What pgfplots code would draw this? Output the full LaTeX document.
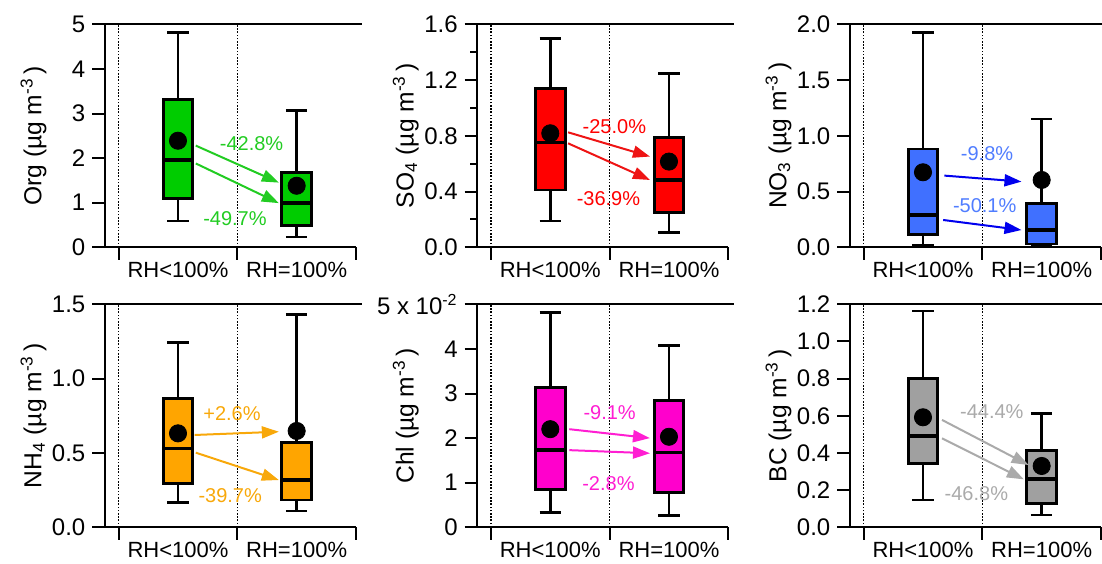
\documentclass[border=0pt]{standalone}
\usepackage{fontspec}
\setmainfont{Liberation Sans}
\usepackage{pgfplots}
\pgfplotsset{compat=1.18}
\usetikzlibrary{arrows.meta}

\definecolor{orgb}{RGB}{0,204,0}
\definecolor{orga}{RGB}{34,204,34}
\definecolor{so4b}{RGB}{255,0,0}
\definecolor{so4a}{RGB}{238,20,20}
\definecolor{no3b}{RGB}{64,112,255}
\definecolor{no3a}{RGB}{0,0,238}
\definecolor{no3t}{RGB}{80,125,255}
\definecolor{nh4b}{RGB}{255,165,0}
\definecolor{nh4a}{RGB}{248,168,10}
\definecolor{chlb}{RGB}{255,0,204}
\definecolor{chla}{RGB}{255,30,210}
\definecolor{bcb}{RGB}{160,160,160}
\definecolor{bca}{RGB}{170,170,170}

\newcommand{\tk}{\fontsize{12}{14}\selectfont}
\newcommand{\xk}{\fontsize{11}{13}\selectfont}
\newcommand{\lb}{\fontsize{12.3}{14}\selectfont}
\newcommand{\an}{\fontsize{10}{12}\selectfont}

\pgfplotsset{
  panel/.style={
    scale only axis, width=125.5pt, height=111.5pt,
    xmin=0.385, xmax=2.5, ymin=0,
    axis x line*=bottom, axis y line*=left,
    axis line style={line width=1pt, -},
    tick align=outside,
    major tick length=6.3pt, minor tick length=3.5pt,
    every tick/.style={line width=1pt, black},
    xtick={0.5,1.5,2.5}, xticklabels={RH<100\%,RH=100\%},
    x tick label as interval,
    clip=false,
    yticklabel style={font=\tk},
    xticklabel style={font=\xk, yshift=2.5pt},
    ylabel style={font=\lb, at={(axis description cs:-0.285,0.5)}, anchor=center},
    anchor=south west,
  },
  wk/.style={black, line width=1.45pt, line join=miter},
  md/.style={black, line width=1.8pt},
  mn/.style={only marks, mark=*, mark size=4.3pt, black, mark options={line width=0.4pt}},
  ar/.style={#1, line width=1pt, -{Triangle[length=8.5pt,width=6pt]}},
}
\newcommand{\seps}[1]{%
  \draw[line width=0.8pt, dash pattern=on 0.8pt off 0.8pt] (axis cs:0.5,0) -- (axis cs:0.5,#1);
  \draw[line width=0.8pt, dash pattern=on 0.8pt off 0.8pt] (axis cs:1.5,0) -- (axis cs:1.5,#1);
  \draw[line width=1pt] (rel axis cs:0,1) -- ([xshift=3pt]rel axis cs:1,1);
}
% box at position 1: fill, lower whisker, Q1, median, Q3, upper whisker
\newcommand{\boxA}[6]{%
  \addplot[wk] coordinates {(1,#2) (1,#6)};
  \addplot[wk] coordinates {(0.91,#2) (1.09,#2)};
  \addplot[wk] coordinates {(0.91,#6) (1.09,#6)};
  \addplot[wk, fill=#1] coordinates {(0.875,#3) (1.125,#3) (1.125,#5) (0.875,#5)} --cycle;
  \addplot[md] coordinates {(0.875,#4) (1.125,#4)};
}
% box at position 2
\newcommand{\boxB}[6]{%
  \addplot[wk] coordinates {(2,#2) (2,#6)};
  \addplot[wk] coordinates {(1.91,#2) (2.09,#2)};
  \addplot[wk] coordinates {(1.91,#6) (2.09,#6)};
  \addplot[wk, fill=#1] coordinates {(1.875,#3) (2.125,#3) (2.125,#5) (1.875,#5)} --cycle;
  \addplot[md] coordinates {(1.875,#4) (2.125,#4)};
}

\begin{document}
\begin{tikzpicture}
\useasboundingbox (0,0) rectangle (551pt,281.5pt);

% ---------- Org ----------
\begin{axis}[panel, at={(52.5pt,157.85pt)}, ymax=5,
  ytick={0,1,2,3,4,5}, yticklabels={0,1,2,3,4,5},
  ylabel={Org (µg m\textsuperscript{-3}\,)}]
\seps{5}
\boxA{orgb}{0.59}{1.09}{1.96}{3.32}{4.81}
\boxB{orgb}{0.23}{0.49}{0.99}{1.67}{3.06}
\addplot[mn] coordinates {(1,2.39) (2,1.38)};
\addplot[ar=orga] coordinates {(1.15,2.28) (1.85,1.45)};
\addplot[ar=orga] coordinates {(1.15,1.88) (1.85,0.99)};
\node[font=\an, text=orga] at (axis cs:1.62,2.33) {-42.8\%};
\node[font=\an, text=orga] at (axis cs:1.48,0.65) {-49.7\%};
\end{axis}

% ---------- SO4 ----------
\begin{axis}[panel, at={(238.65pt,157.85pt)}, ymax=1.6,
  ytick={0,0.4,0.8,1.2,1.6}, yticklabels={0.0,0.4,0.8,1.2,1.6},
  minor ytick={0.2,0.6,1.0,1.4},
  ylabel={SO\textsubscript{4} (µg m\textsuperscript{-3}\,)}]
\seps{1.6}
\boxA{so4b}{0.189}{0.411}{0.753}{1.141}{1.50}
\boxB{so4b}{0.105}{0.251}{0.483}{0.787}{1.248}
\addplot[mn] coordinates {(1,0.818) (2,0.615)};
\addplot[ar=so4a] coordinates {(1.15,0.825) (1.84,0.651)};
\addplot[ar=so4a] coordinates {(1.15,0.746) (1.84,0.483)};
\node[font=\an, text=so4b] at (axis cs:1.54,0.866) {-25.0\%};
\node[font=\an, text=so4b] at (axis cs:1.49,0.352) {-36.9\%};
\end{axis}

% ---------- NO3 ----------
\begin{axis}[panel, at={(425pt,157.85pt)}, ymax=2,
  ytick={0,0.5,1,1.5,2}, yticklabels={0.0,0.5,1.0,1.5,2.0},
  ylabel={NO\textsubscript{3} (µg m\textsuperscript{-3}\,)}]
\seps{2}
\boxA{no3b}{0.015}{0.111}{0.29}{0.882}{1.928}
\boxB{no3b}{0.005}{0.03}{0.155}{0.395}{1.151}
\addplot[mn] coordinates {(1,0.673) (2,0.604)};
\addplot[ar=no3a] coordinates {(1.18,0.643) (1.83,0.589)};
\addplot[ar=no3a] coordinates {(1.17,0.245) (1.83,0.155)};
\node[font=\an, text=no3t] at (axis cs:1.54,0.843) {-9.8\%};
\node[font=\an, text=no3t] at (axis cs:1.52,0.371) {-50.1\%};
\end{axis}

% ---------- NH4 ----------
\begin{axis}[panel, at={(52.5pt,17.85pt)}, ymax=1.5,
  ytick={0,0.5,1,1.5}, yticklabels={0.0,0.5,1.0,1.5},
  ylabel={NH\textsubscript{4} (µg m\textsuperscript{-3}\,)}]
\seps{1.5}
\boxA{nh4b}{0.168}{0.296}{0.531}{0.868}{1.242}
\boxB{nh4b}{0.110}{0.184}{0.318}{0.570}{1.433}
\addplot[mn] coordinates {(1,0.632) (2,0.648)};
\addplot[ar=nh4a] coordinates {(1.14,0.621) (1.85,0.643)};
\addplot[ar=nh4a] coordinates {(1.15,0.502) (1.85,0.318)};
\node[font=\an, text=nh4a] at (axis cs:1.455,0.767) {+2.6\%};
\node[font=\an, text=nh4a] at (axis cs:1.44,0.211) {-39.7\%};
\end{axis}

% ---------- Chl ----------
\begin{axis}[panel, at={(238.65pt,17.85pt)}, ymax=5,
  ytick={0,1,2,3,4,5}, yticklabels={0,1,2,3,4,{5 x 10\textsuperscript{-2}}},
  ylabel={Chl (µg m\textsuperscript{-3}\,)}]
\seps{5}
\boxA{chlb}{0.34}{0.84}{1.73}{3.13}{4.82}
\boxB{chlb}{0.26}{0.78}{1.68}{2.84}{4.07}
\addplot[mn] coordinates {(1,2.20) (2,2.03)};
\addplot[ar=chla] coordinates {(1.16,2.20) (1.84,2.0)};
\addplot[ar=chla] coordinates {(1.16,1.73) (1.84,1.66)};
\node[font=\an, text=chla] at (axis cs:1.5,2.58) {-9.1\%};
\node[font=\an, text=chla] at (axis cs:1.49,0.99) {-2.8\%};
\end{axis}

% ---------- BC ----------
\begin{axis}[panel, at={(425pt,17.85pt)}, ymax=1.2,
  ytick={0,0.2,0.4,0.6,0.8,1.0,1.2}, yticklabels={0.0,0.2,0.4,0.6,0.8,1.0,1.2},
  ylabel={BC (µg m\textsuperscript{-3}\,)}]
\seps{1.2}
\boxA{bcb}{0.147}{0.344}{0.491}{0.802}{1.164}
\boxB{bcb}{0.066}{0.129}{0.260}{0.411}{0.613}
\addplot[mn] coordinates {(1,0.592) (2,0.330)};
\addplot[ar=bca] coordinates {(1.16,0.578) (1.89,0.335)};
\addplot[ar=bca] coordinates {(1.16,0.479) (1.85,0.258)};
\node[font=\an, text=bca] at (axis cs:1.58,0.622) {-44.4\%};
\node[font=\an, text=bca] at (axis cs:1.45,0.183) {-46.8\%};
\end{axis}
\end{tikzpicture}
\end{document}
